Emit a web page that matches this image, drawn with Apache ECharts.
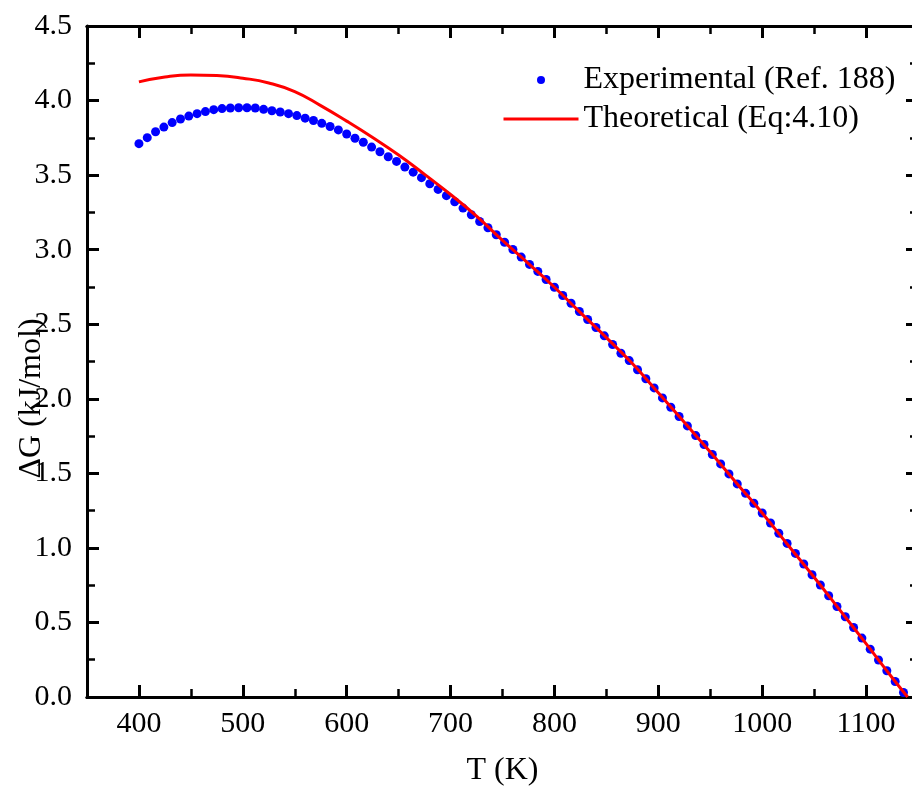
<!DOCTYPE html>
<html><head><meta charset="utf-8">
<script src="https://cdn.jsdelivr.net/npm/echarts@6/dist/echarts.min.js"></script>
<style>html,body{margin:0;padding:0;background:#fff}#c{width:912px;height:790px}</style>
</head><body><div id="c"></div>
<script>
// Experimental (Ref. 188): temperature (K)
const expT = [400,408,416,424,432,440,448,456,464,472,480,488,496,504,512,520,528,536,544,552,
  560,568,576,584,592,600,608,616,624,632,640,648,656,664,672,680,688,696,704,712,
  720,728,736,744,752,760,768,776,784,792,800,808,816,824,832,840,848,856,864,872,
  880,888,896,904,912,920,928,936,944,952,960,968,976,984,992,1000,1008,1016,1024,1032,
  1040,1048,1056,1064,1072,1080,1088,1096,1104,1112,1120,1128,1136];
// Experimental ΔG (kJ/mol)
const expG = [3.711,3.751,3.791,3.822,3.852,3.876,3.896,3.912,3.926,3.939,3.946,3.950,3.952,3.952,3.950,3.941,3.932,3.923,3.912,3.899,
  3.882,3.866,3.847,3.826,3.803,3.776,3.747,3.720,3.688,3.657,3.623,3.592,3.554,3.520,3.483,3.442,3.404,3.362,3.321,3.279,
  3.234,3.189,3.147,3.100,3.050,3.001,2.950,2.901,2.854,2.800,2.748,2.693,2.641,2.585,2.532,2.478,2.422,2.364,2.305,2.256,
  2.195,2.134,2.073,2.006,1.943,1.881,1.818,1.753,1.693,1.626,1.563,1.496,1.429,1.366,1.299,1.234,1.167,1.098,1.030,0.963,
  0.892,0.820,0.751,0.679,0.607,0.538,0.466,0.395,0.321,0.248,0.176,0.104,0.030];
// Theoretical (Eq:4.10)
const theoT = [400,425,450,475,500,525,550,575,600,625,650,675,700,725,750,775,800,825,850,875,900,925,950,975,1000,1025,1050,1075,1100,1125,1140];
const theoG = [4.125,4.158,4.172,4.168,4.150,4.118,4.060,3.966,3.862,3.752,3.635,3.505,3.370,3.225,3.062,2.907,2.748,2.578,2.410,2.236,2.040,1.842,1.643,1.437,1.234,1.018,0.803,0.581,0.358,0.131,0.0];
// Axis ticks
const xMajorTicks = [400,500,600,700,800,900,1000,1100];
const xMinorTicks = [450,550,650,750,850,950,1050];
const seriesNames = ['Experimental (Ref. 188)', 'Theoretical (Eq:4.10)'];

const FONT = '"Liberation Serif", "Times New Roman", serif';
const AX = {color:'#000', width:3};
const xMin = 350, xMax = 1150;

function xAxisDef(pos, ticks, len, labels, extra) {
  return Object.assign({
    type:'value', gridIndex:0, position:pos, min:xMin, max:xMax,
    axisLine:{show:true, onZero:false, lineStyle:AX},
    axisTick:{show:true, inside:true, length:len, customValues:ticks, lineStyle:{color:'#000', width:len>10?3:2.5}},
    axisLabel:{show:labels, customValues:ticks, color:'#000', fontFamily:FONT, fontSize:30, margin:12,
      formatter:v=>String(v)},
    splitLine:{show:false}
  }, extra||{});
}
function yAxisDef(pos, labels, extra) {
  return Object.assign({
    type:'value', position:pos, min:0, max:4.5, interval:0.5,
    axisLine:{show:true, onZero:false, lineStyle:AX},
    axisTick:{show:true, inside:true, length:12, lineStyle:{color:'#000', width:3}},
    minorTick:{show:true, splitNumber:2, length:8, lineStyle:{color:'#000', width:2.5}},
    axisLabel:{show:labels, color:'#000', fontFamily:FONT, fontSize:30, margin:15,
      formatter:v=>v.toFixed(1)},
    splitLine:{show:false}, minorSplitLine:{show:false}
  }, extra||{});
}

const chart = echarts.init(document.getElementById('c'), null, {renderer:'canvas'});
chart.setOption({
  backgroundColor:'#fff',
  animation:false,
  grid:{left:87, top:26, width:831, height:671, containLabel:false, outerBoundsMode:'none'},
  xAxis:[
    xAxisDef('bottom', xMajorTicks, 12, true, {name:'T (K)', nameLocation:'middle', nameGap:58,
      nameMoveOverlap:false,
      nameTextStyle:{color:'#000', fontFamily:FONT, fontSize:32}}),
    xAxisDef('bottom', xMinorTicks, 8, false),
    xAxisDef('top', xMajorTicks, 12, false),
    xAxisDef('top', xMinorTicks, 8, false)
  ],
  yAxis:[
    yAxisDef('left', true, {name:'\u0394G (kJ/mol)', nameLocation:'middle', nameGap:39, nameRotate:90,
      nameMoveOverlap:false,
      nameTextStyle:{color:'#000', fontFamily:FONT, fontSize:32, padding:[0,74,0,0]}}),
    yAxisDef('right', false)
  ],
  legend:{
    orient:'vertical', left:497, top:59, itemWidth:75, itemHeight:8, itemGap:7,
    textStyle:{color:'#000', fontFamily:FONT, fontSize:32},
    data:[{name:seriesNames[0], icon:'circle', itemStyle:{color:'#0000ff', opacity:1}},
          {name:seriesNames[1], itemStyle:{opacity:0}, lineStyle:{color:'#ff0000', width:3, opacity:1}}]
  },
  series:[
    {name:seriesNames[0], type:'scatter', xAxisIndex:0, yAxisIndex:0,
      symbol:'circle', symbolSize:9, itemStyle:{color:'#0000ff', opacity:1}, z:2,
      data:expT.map((t,i)=>[t, expG[i]])},
    {name:seriesNames[1], type:'line', xAxisIndex:0, yAxisIndex:0,
      smooth:true, showSymbol:false, symbol:'none',
      lineStyle:{color:'#ff0000', width:3}, itemStyle:{color:'#ff0000'}, z:3,
      data:theoT.map((t,i)=>[t, theoG[i]])}
  ]
});
</script>
</body></html>
